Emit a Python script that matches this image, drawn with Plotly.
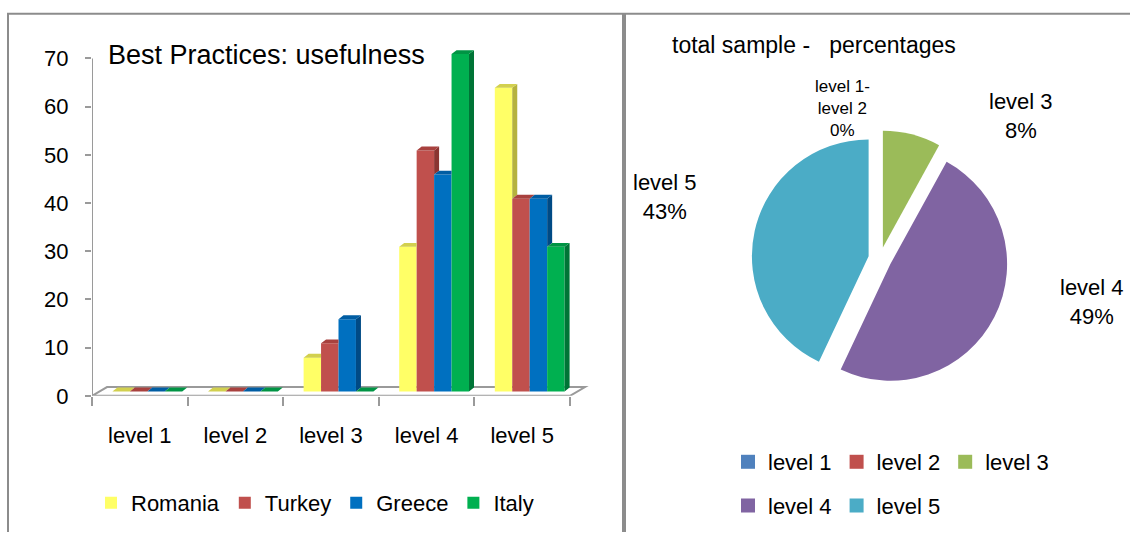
import plotly.graph_objects as go

# ---------------- data ----------------
categories = ["level 1", "level 2", "level 3", "level 4", "level 5"]
countries = ["Romania", "Turkey", "Greece", "Italy"]
romania = [0, 0, 7, 30, 63]
turkey = [0, 0, 10, 50, 40]
greece = [0, 0, 15, 45, 40]
italy = [0, 0, 0, 70, 30]
y_ticks = [0, 10, 20, 30, 40, 50, 60, 70]

pie_labels = ["level 1", "level 2", "level 3", "level 4", "level 5"]
pie_values = [0, 0, 8, 49, 43]

bar_title = "Best Practices: usefulness"
pie_title = "total sample -&nbsp;&nbsp; percentages"
zero_label = "level 1-<br>level 2<br>0%"

series_values = [romania, turkey, greece, italy]

# ---------------- styles ----------------
W, H = 1130, 545
FONT = "Liberation Sans, Arial, sans-serif"
GRAY = "#9A9A9A"
front_colors = ["#FFFF66", "#C0504D", "#0070C0", "#00B050"]
top_colors = ["#D2D04E", "#A8413E", "#005DA3", "#009444"]
side_colors = ["#B5B23E", "#8A3431", "#004A85", "#007436"]
pie_colors = ["#4F81BD", "#C0504D", "#9BBB59", "#8064A2", "#4BACC6"]


def px_x(p):
    return p / W


def px_y(p):
    return (H - p) / H


# bar plot geometry (pixels -> axis units)
X0_PX, Y0_PX = 92, 405
PX_PER_X = 95.6
PX_PER_Y = (405 - 58) / 70.0
X_RANGE = [-0.5, 4.7]
Y_RANGE = [0, 72]
x_dom = [px_x(X0_PX), px_x(X0_PX + (X_RANGE[1] - X_RANGE[0]) * PX_PER_X)]
y_dom = [px_y(Y0_PX), px_y(Y0_PX - Y_RANGE[1] * PX_PER_Y)]

floor_dx, floor_dy = 15 / PX_PER_X, 9 / PX_PER_Y
bar_dx, bar_dy = 5 / PX_PER_X, 4 / PX_PER_Y
shift_x, shift_y = floor_dx / 2, floor_dy / 2
bar_w = 0.1825
n_series = len(series_values)
xs = list(range(len(categories)))

fig = go.Figure()

# front faces (bars)
for i, (name, vals) in enumerate(zip(countries, series_values)):
    fig.add_trace(go.Bar(
        x=xs, y=vals, base=shift_y, width=bar_w,
        offset=-n_series / 2 * bar_w + i * bar_w + shift_x,
        name=name, marker=dict(color=front_colors[i], line=dict(width=0)),
        legend="legend", hoverinfo="skip",
    ))

# 3D side and top faces derived from the same values
for i, vals in enumerate(series_values):
    side_x, side_y, top_x, top_y = [], [], [], []
    for c, v in enumerate(vals):
        xl = c - n_series / 2 * bar_w + i * bar_w + shift_x
        xr = xl + bar_w
        t = shift_y + v
        nxt = series_values[i + 1][c] if i + 1 < n_series else None
        low = shift_y if nxt is None else shift_y + nxt
        if t > low:
            side_x += [xr, xr + bar_dx, xr + bar_dx, xr, xr, None]
            side_y += [low, low + bar_dy, t + bar_dy, t, low, None]
        right = xr if (nxt is not None and nxt > v) else xr + bar_dx
        top_x += [xl, xl + bar_dx, right, xr, xl, None]
        top_y += [t, t + bar_dy, t + bar_dy, t, t, None]
    fig.add_trace(go.Scatter(x=side_x, y=side_y, mode="lines", fill="toself",
                             fillcolor=side_colors[i], line=dict(width=0, color=side_colors[i]),
                             showlegend=False, hoverinfo="skip"))
    fig.add_trace(go.Scatter(x=top_x, y=top_y, mode="lines", fill="toself",
                             fillcolor=top_colors[i], line=dict(width=0, color=top_colors[i]),
                             showlegend=False, hoverinfo="skip"))

# pie
pie_cx, pie_cy, pie_half = 880, 264, 132
fig.add_trace(go.Pie(
    labels=pie_labels, values=pie_values, sort=False, direction="clockwise", rotation=0,
    pull=[0, 0, 0.1, 0.1, 0.1],
    marker=dict(colors=pie_colors, line=dict(width=0)),
    textinfo="none",
    domain=dict(x=[px_x(pie_cx - pie_half), px_x(pie_cx + pie_half)],
                y=[px_y(pie_cy + pie_half), px_y(pie_cy - pie_half)]),
    showlegend=False, hoverinfo="skip",
))

# pie legend entries (two rows)
for k, (lab, col) in enumerate(zip(pie_labels, pie_colors)):
    fig.add_trace(go.Scatter(
        x=[None], y=[None], mode="markers", name=lab,
        marker=dict(symbol="square", size=14, color=col),
        legend="legend2" if k < 3 else "legend3", hoverinfo="skip",
    ))

shapes = [
    dict(type="path", xref="x", yref="y", layer="below",
         path=(f"M {X_RANGE[0]},0 L {len(categories) - 0.5},0 "
               f"L {len(categories) - 0.5 + floor_dx},{floor_dy} L {X_RANGE[0] + floor_dx},{floor_dy} Z"),
         line=dict(color=GRAY, width=2), fillcolor="white"),
    dict(type="line", xref="x", yref="y", layer="below", x0=X_RANGE[0], x1=X_RANGE[0],
         y0=0, y1=y_ticks[-1], line=dict(color=GRAY, width=2)),
    dict(type="line", xref="paper", yref="paper", x0=px_x(7), x1=1, y0=px_y(12), y1=px_y(12),
         line=dict(color="#8C8C8C", width=2)),
    dict(type="line", xref="paper", yref="paper", x0=px_x(8), x1=px_x(8), y0=0, y1=px_y(12),
         line=dict(color="#8C8C8C", width=2)),
    dict(type="line", xref="paper", yref="paper", x0=px_x(624), x1=px_x(624), y0=0, y1=px_y(12),
         line=dict(color="#8C8C8C", width=4)),
]

# pie slice labels (text built from the data)
slice_label_pos = {2: (1021, 117), 3: (1092, 308), 4: (665, 201)}
annotations = []
for k, (cx, cy) in slice_label_pos.items():
    annotations.append(dict(
        text=f"{pie_labels[k]}<br>{pie_values[k]}%", xref="paper", yref="paper",
        x=px_x(cx), y=px_y(cy), xanchor="center", yanchor="middle", align="center",
        showarrow=False, font=dict(size=22, color="black", family=FONT)))

annotations += [
    dict(text=bar_title, xref="paper", yref="paper", x=px_x(106), y=px_y(54),
         xanchor="left", yanchor="middle", showarrow=False,
         font=dict(size=27, color="black", family=FONT)),
    dict(text=pie_title, xref="paper", yref="paper", x=px_x(670), y=px_y(44),
         xanchor="left", yanchor="middle", showarrow=False,
         font=dict(size=23, color="black", family=FONT)),
    dict(text=zero_label, xref="paper", yref="paper", x=px_x(842), y=px_y(110),
         xanchor="center", yanchor="middle", showarrow=False,
         font=dict(size=17, color="black", family=FONT)),
]

fig.update_layout(
    width=W, height=H, margin=dict(l=0, r=0, t=0, b=0),
    paper_bgcolor="white", plot_bgcolor="rgba(0,0,0,0)",
    font=dict(family=FONT, color="black", size=22),
    barmode="overlay",
    shapes=shapes, annotations=annotations,
    xaxis=dict(domain=x_dom, range=X_RANGE, tickmode="array", tickvals=xs, ticktext=categories,
               ticks="", showline=False, showgrid=False, zeroline=False,
               tickfont=dict(size=22), ticklabelstandoff=24,
               minor=dict(tickmode="array", tickvals=[c - 0.5 for c in range(len(categories) + 1)],
                          ticks="outside", ticklen=9, tickwidth=2, tickcolor=GRAY, showgrid=False)),
    yaxis=dict(domain=y_dom, range=Y_RANGE, tickmode="array", tickvals=y_ticks,
               ticks="outside", ticklen=6, tickwidth=2, tickcolor=GRAY,
               showline=False, showgrid=False, zeroline=False,
               tickfont=dict(size=22), ticklabelstandoff=12),
    legend=dict(orientation="h", x=px_x(91), y=px_y(515), xanchor="left", yanchor="middle",
                font=dict(size=22), bgcolor="rgba(0,0,0,0)"),
    legend2=dict(orientation="h", x=px_x(728), y=px_y(473), xanchor="left", yanchor="middle",
                 font=dict(size=22), bgcolor="rgba(0,0,0,0)"),
    legend3=dict(orientation="h", x=px_x(728), y=px_y(518), xanchor="left", yanchor="middle",
                 font=dict(size=22), bgcolor="rgba(0,0,0,0)"),
)

fig.write_html("out.html")
